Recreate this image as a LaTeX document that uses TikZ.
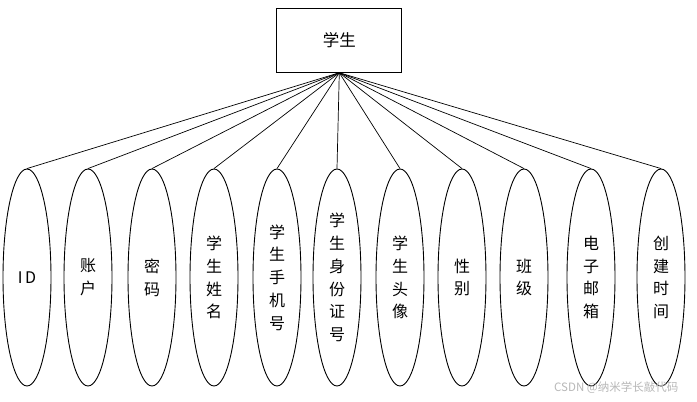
\documentclass[tikz,border=0pt]{standalone}
\usepackage{fontspec}
\setmainfont{Noto Sans CJK SC}
\usetikzlibrary{shapes.geometric}
\begin{document}
\begin{tikzpicture}[x=1pt,y=-1pt,
  entbox/.style={draw,line width=0.9pt,minimum width=125pt,minimum height=64pt,inner sep=0pt,font=\fontsize{16.5}{18}\selectfont},
  attr/.style={draw,ellipse,line width=0.9pt,minimum width=48pt,minimum height=217pt,inner sep=0pt,align=center,font=\fontsize{16}{22.8}\selectfont},
  link/.style={line width=0.7pt},
  wm/.style={text=black!28,font=\fontsize{11.5}{12}\selectfont,inner sep=0pt}]
\useasboundingbox (0,0) rectangle (697,402);
\fill[white] (0,0) rectangle (697,402);
\node[entbox] (s) at (339.3,40.3) {学生};
\node[attr] (a1) at (27,277.5) {I\,D};
\node[attr] (a2) at (88,277.5) {账\\户};
\node[attr] (a3) at (152,277.5) {密\\码};
\node[attr] (a4) at (214,277.5) {学\\生\\姓\\名};
\node[attr] (a5) at (277,277.5) {学\\生\\手\\机\\号};
\node[attr] (a6) at (337,277.5) {学\\生\\身\\份\\证\\号};
\node[attr] (a7) at (400,277.5) {学\\生\\头\\像};
\node[attr] (a8) at (462,277.5) {性\\别};
\node[attr] (a9) at (524,277.5) {班\\级};
\node[attr] (a10) at (591,277.5) {电\\子\\邮\\箱};
\node[attr] (a11) at (661,277.5) {创\\建\\时\\间};
\foreach \i in {1,...,11} \draw[link] (s.south) -- (a\i.north);
\node[wm,anchor=west] (w) at (554,388) {CSDN @纳米学长敲代码};
\end{tikzpicture}
\end{document}
